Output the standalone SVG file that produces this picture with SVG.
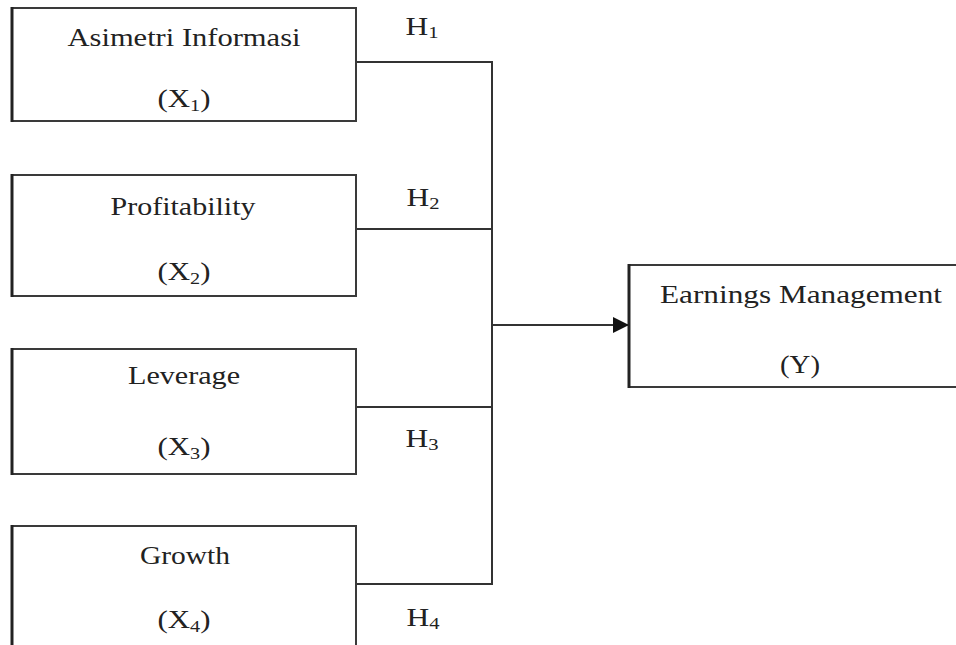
<svg xmlns="http://www.w3.org/2000/svg" width="956" height="645" viewBox="0 0 956 645">
<defs>
<style>
.box{fill:#fff;stroke:#3a3a3a;stroke-width:2}
.edge{stroke:#222;stroke-width:3}
.t{font-family:"Liberation Serif","Times New Roman",serif;font-size:26px;fill:#222;text-anchor:middle}
.sub{font-size:17px}
.c{fill:none;stroke:#333;stroke-width:2}
</style>
<marker id="arr" viewBox="0 0 10 10" refX="10" refY="5" markerWidth="17" markerHeight="16" markerUnits="userSpaceOnUse" orient="auto">
<path d="M0,0 L10,5 L0,10 Z" fill="#111"/>
</marker>
</defs>
<rect width="956" height="645" fill="#fff"/>
<g id="connectors">
<path class="c" d="M356,62 H492 V584 H356"/>
<path class="c" d="M356,229 H492"/>
<path class="c" d="M356,407 H492"/>
<path class="c" d="M492,325 H629" marker-end="url(#arr)"/>
</g>
<g id="x1">
<rect class="box" x="12" y="8" width="344" height="113"/>
<line class="edge" x1="12" y1="7" x2="12" y2="122"/>
<text class="t" x="184" y="46" textLength="233" lengthAdjust="spacingAndGlyphs">Asimetri  Informasi</text>
<text class="t" x="184" y="107" textLength="53" lengthAdjust="spacingAndGlyphs">(X<tspan class="sub" dy="4">1</tspan><tspan dy="-4">)</tspan></text>
</g>
<g id="x2">
<rect class="box" x="12" y="175" width="344" height="121"/>
<line class="edge" x1="12" y1="174" x2="12" y2="297"/>
<text class="t" x="183" y="215" textLength="145" lengthAdjust="spacingAndGlyphs">Profitability</text>
<text class="t" x="184" y="280" textLength="53" lengthAdjust="spacingAndGlyphs">(X<tspan class="sub" dy="4">2</tspan><tspan dy="-4">)</tspan></text>
</g>
<g id="x3">
<rect class="box" x="12" y="349" width="344" height="125"/>
<line class="edge" x1="12" y1="348" x2="12" y2="475"/>
<text class="t" x="184" y="384" textLength="112" lengthAdjust="spacingAndGlyphs">Leverage</text>
<text class="t" x="184" y="455" textLength="53" lengthAdjust="spacingAndGlyphs">(X<tspan class="sub" dy="4">3</tspan><tspan dy="-4">)</tspan></text>
</g>
<g id="x4">
<rect class="box" x="12" y="526" width="344" height="130"/>
<line class="edge" x1="12" y1="525" x2="12" y2="650"/>
<text class="t" x="185" y="564" textLength="90" lengthAdjust="spacingAndGlyphs">Growth</text>
<text class="t" x="184" y="628" textLength="53" lengthAdjust="spacingAndGlyphs">(X<tspan class="sub" dy="4">4</tspan><tspan dy="-4">)</tspan></text>
</g>
<g id="y">
<rect class="box" x="629" y="265" width="340" height="122"/>
<line class="edge" x1="629" y1="264" x2="629" y2="388"/>
<text class="t" x="801" y="303" textLength="282" lengthAdjust="spacingAndGlyphs">Earnings  Management</text>
<text class="t" x="800" y="373" textLength="40" lengthAdjust="spacingAndGlyphs">(Y)</text>
</g>
<g id="labels">
<text class="t" x="422" y="35" textLength="33" lengthAdjust="spacingAndGlyphs">H<tspan class="sub" dy="3">1</tspan></text>
<text class="t" x="423" y="206" textLength="33" lengthAdjust="spacingAndGlyphs">H<tspan class="sub" dy="3">2</tspan></text>
<text class="t" x="422" y="447" textLength="33" lengthAdjust="spacingAndGlyphs">H<tspan class="sub" dy="3">3</tspan></text>
<text class="t" x="423" y="626" textLength="33" lengthAdjust="spacingAndGlyphs">H<tspan class="sub" dy="3">4</tspan></text>
</g>
</svg>
